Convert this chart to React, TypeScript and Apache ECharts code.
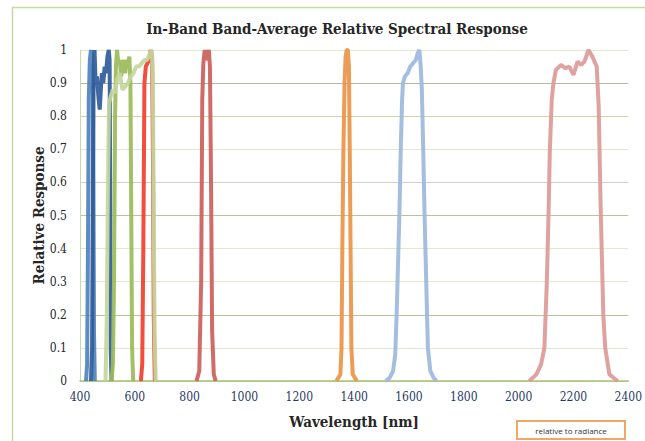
import React, { useEffect, useRef } from "react";
import * as echarts from "echarts";

// Wavelength [nm] vs relative response for each band
const band1Coastal = [[422,0],[426,0.05],[429,0.4],[432,0.85],[436,0.97],[440,1.0],[444,0.98],[447,0.92],[449,0.6],[451,0.15],[454,0]];
const band2Blue = [[440,0],[444,0.1],[447,0.6],[450,0.95],[453,1.0],[457,0.9],[462,0.92],[467,0.86],[472,0.82],[476,0.88],[480,0.93],[485,0.9],[490,0.95],[495,0.93],[500,0.98],[505,1.0],[508,0.97],[510,0.6],[512,0.1],[515,0]];
const bandPan = [[493,0],[498,0.2],[502,0.6],[506,0.84],[512,0.86],[520,0.88],[528,0.87],[535,0.91],[545,0.93],[555,0.88],[565,0.89],[575,0.9],[585,0.92],[595,0.93],[605,0.95],[615,0.95],[625,0.96],[635,0.97],[645,0.97],[655,0.99],[662,1.0],[666,0.9],[669,0.5],[672,0.15],[676,0]];
const band3Green = [[515,0],[520,0.05],[524,0.3],[528,0.8],[531,0.95],[535,1.0],[540,0.96],[545,0.97],[550,0.92],[555,0.95],[560,0.97],[565,0.93],[570,0.97],[575,0.96],[580,0.98],[584,0.9],[587,0.5],[590,0.1],[594,0]];
const band4Red = [[622,0],[627,0.05],[631,0.4],[635,0.9],[640,0.95],[646,0.96],[653,0.97],[658,1.0],[663,0.98],[666,0.7],[669,0.2],[673,0]];
const band5Nir = [[825,0],[835,0.03],[842,0.3],[846,0.85],[850,0.96],[855,1.0],[860,0.97],[865,0.98],[870,1.0],[874,0.95],[878,0.6],[882,0.15],[888,0.02],[895,0]];
const band9Cirrus = [[1335,0],[1350,0.02],[1354,0.1],[1357,0.4],[1361,0.7],[1365,0.9],[1369,0.98],[1373,1.0],[1377,1.0],[1381,0.95],[1384,0.7],[1387,0.4],[1390,0.1],[1395,0.02],[1410,0]];
const band6Swir1 = [[1515,0],[1530,0.01],[1542,0.03],[1550,0.08],[1555,0.2],[1560,0.35],[1565,0.5],[1570,0.7],[1575,0.85],[1578,0.9],[1585,0.92],[1595,0.93],[1605,0.95],[1615,0.96],[1625,0.97],[1632,0.99],[1638,1.0],[1643,0.95],[1647,0.88],[1652,0.7],[1657,0.5],[1663,0.3],[1669,0.1],[1678,0.03],[1690,0.01],[1700,0]];
const band7Swir2 = [[2039,0],[2065,0.02],[2082,0.05],[2094,0.1],[2103,0.3],[2109,0.5],[2114,0.7],[2121,0.85],[2127,0.9],[2136,0.94],[2155,0.955],[2170,0.945],[2185,0.95],[2200,0.925],[2215,0.965],[2228,0.955],[2240,0.965],[2255,1.0],[2269,0.98],[2285,0.95],[2292,0.83],[2300,0.5],[2309,0.2],[2316,0.1],[2331,0.02],[2361,0]];

const seriesList = [
  { name: "Coastal", data: band1Coastal, color: "#4f81bd" },
  { name: "Blue", data: band2Blue, color: "#2f5c98" },
  { name: "Green", data: band3Green, color: "#9bbb59" },
  { name: "Red", data: band4Red, color: "#f23e2e" },
  { name: "Pan", data: bandPan, color: "#c3d69b" },
  { name: "NIR", data: band5Nir, color: "#cc5f5b" },
  { name: "Cirrus", data: band9Cirrus, color: "#ec9446" },
  { name: "SWIR1", data: band6Swir1, color: "#9db7db" },
  { name: "SWIR2", data: band7Swir2, color: "#dc9a98" },
];

const xTicks = { min: 400, max: 2400, interval: 200 };
const yTicks = { min: 0, max: 1, interval: 0.1 };
const gridColors = ["#c8d9a8", "#dfe9cc", "#b5c79a", "#dfe9cc", "#dfe9cc", "#b5c79a", "#cfcfcf", "#dfe9cc", "#c8d9a8", "#b0bca2", "#dfe9cc"];

const serifFont = "'DejaVu Serif Condensed', 'DejaVu Serif', serif";

export default function App() {
  const ref = useRef<HTMLDivElement>(null);
  useEffect(() => {
    if (!ref.current) return;
    const chart = echarts.init(ref.current, null, { renderer: "svg" });
    chart.setOption({
      animation: false,
      backgroundColor: "#ffffff",
      title: {
        text: "In-Band Band-Average Relative Spectral Response",
        left: 332,
        textAlign: "center",
        top: 16,
        textStyle: { fontFamily: serifFont, fontWeight: "bold", fontSize: 15, color: "#262626" },
      },
      grid: { left: 80, right: 15, top: 50, bottom: 60 },
      xAxis: {
        type: "value",
        min: xTicks.min,
        max: xTicks.max,
        interval: xTicks.interval,
        name: "Wavelength [nm]",
        nameLocation: "middle",
        nameGap: 33,
        nameMoveOverlap: false,
        nameTextStyle: { fontFamily: serifFont, fontWeight: "bold", fontSize: 15, color: "#262626" },
        axisLine: { lineStyle: { color: "#a9c27a", width: 1.5 } },
        axisTick: { show: false },
        splitLine: { show: false },
        axisLabel: {
          margin: 10,
          fontFamily: serifFont,
          fontSize: 12,
          color: "#1f3a68",
          formatter: (v: number) => String(v),
        },
      },
      yAxis: {
        type: "value",
        min: yTicks.min,
        max: yTicks.max,
        interval: yTicks.interval,
        name: "Relative Response",
        nameLocation: "middle",
        nameGap: 34,
        nameMoveOverlap: false,
        nameTextStyle: { fontFamily: serifFont, fontWeight: "bold", fontSize: 15, color: "#262626" },
        axisLine: { show: true, lineStyle: { color: "#c8d9a8", width: 1 } },
        axisTick: { show: false },
        splitLine: { show: true, lineStyle: { color: gridColors, width: 1 } },
        axisLabel: { margin: 13, fontFamily: serifFont, fontSize: 12, color: "#262626" },
      },
      series: seriesList.map((s) => ({
        name: s.name,
        type: "line",
        data: s.data,
        showSymbol: false,
        smooth: false,
        lineStyle: { color: s.color, width: 4, opacity: 0.92 },
        itemStyle: { color: s.color },
      })),
      graphic: [
        {
          type: "rect",
          left: 10,
          top: 5,
          shape: { x: 0, y: 0, width: 660, height: 460 },
          style: { fill: "none", stroke: "#c6d8a4", lineWidth: 1.5 },
          silent: true,
          z: -10,
        },
        {
          type: "rect",
          shape: { x: 517, y: 421, width: 108, height: 18 },
          style: { fill: "#ffffff", stroke: "#f0a765", lineWidth: 2 },
        },
        {
          type: "text",
          x: 571,
          y: 430,
          style: {
            text: "relative to radiance",
            fontFamily: "'Open Sans', 'DejaVu Sans', sans-serif",
            fontSize: 8,
            fill: "#333",
            align: "center",
            verticalAlign: "middle",
          },
        },
      ],
    });
    return () => chart.dispose();
  }, []);
  return <div ref={ref} style={{ position: "fixed", left: 0, top: 0, width: 645, height: 441 }} />;
}
